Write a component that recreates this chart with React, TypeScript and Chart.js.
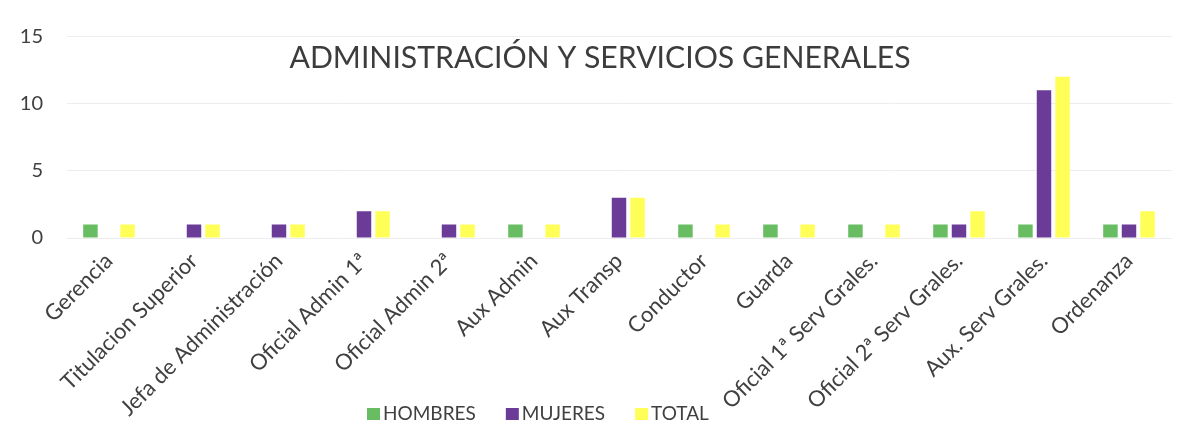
import React, { useEffect, useRef } from "react";
import { Chart, registerables } from "chart.js";

Chart.register(...registerables);

const TITLE = "ADMINISTRACIÓN Y SERVICIOS GENERALES";

const categories = [
  "Gerencia",
  "Titulacion Superior",
  "Jefa de Administración",
  "Oficial Admin 1ª",
  "Oficial Admin 2ª",
  "Aux Admin",
  "Aux Transp",
  "Conductor",
  "Guarda",
  "Oficial 1ª Serv Grales.",
  "Oficial 2ª Serv Grales.",
  "Aux. Serv Grales.",
  "Ordenanza",
];

const hombres = [1, 0, 0, 0, 0, 1, 0, 1, 1, 1, 1, 1, 1];
const mujeres = [0, 1, 1, 2, 1, 0, 3, 0, 0, 0, 1, 11, 1];
const total = [1, 1, 1, 2, 1, 1, 3, 1, 1, 1, 2, 12, 2];

const seriesLabels = ["HOMBRES", "MUJERES", "TOTAL"];
const seriesColors = ["#68bd62", "#6a3c98", "#ffff58"];

const yMin = 0;
const yMax = 15;
const yStep = 5;

const FONT = "Lato, 'Open Sans', sans-serif";
const TEXT = "#404040";

const titlePlugin = {
  id: "customTitle",
  afterDraw(chart: any) {
    const ctx = chart.ctx;
    ctx.save();
    ctx.font = `30.2px ${FONT}`;
    ctx.fillStyle = "#3c3c3c";
    ctx.textAlign = "center";
    ctx.textBaseline = "alphabetic";
    ctx.fillText(TITLE, 592, 60);
    ctx.restore();
  },
};

const legendPlugin = {
  id: "customLegend",
  afterDraw(chart: any) {
    const ctx = chart.ctx;
    ctx.save();
    ctx.font = `19px ${FONT}`;
    ctx.textBaseline = "middle";
    ctx.textAlign = "left";
    let x = 359;
    const y = 406;
    chart.data.datasets.forEach((ds: any) => {
      ctx.fillStyle = ds.backgroundColor;
      ctx.fillRect(x, y - 6, 13, 12);
      x += 16;
      ctx.fillStyle = TEXT;
      ctx.fillText(ds.label, x, y);
      x += ctx.measureText(ds.label).width + 30;
    });
    ctx.restore();
  },
};

export default function App() {
  const ref = useRef<HTMLCanvasElement | null>(null);

  useEffect(() => {
    if (!ref.current) return;
    const data = [hombres, mujeres, total];
    const chart = new Chart(ref.current, {
      type: "bar",
      data: {
        labels: categories,
        datasets: data.map((d, i) => ({
          label: seriesLabels[i],
          data: d,
          backgroundColor: seriesColors[i],
          borderWidth: 0,
          categoryPercentage: 0.655,
          barPercentage: 0.78,
        })),
      },
      options: {
        animation: false,
        responsive: false,
        maintainAspectRatio: false,
        layout: { padding: { top: 28.5, right: 19.5, left: 0, bottom: 0 } },
        plugins: {
          legend: { display: false },
          title: { display: false },
          tooltip: { enabled: false },
        },
        scales: {
          x: {
            grid: { display: false },
            border: { display: false },
            ticks: {
              color: TEXT,
              font: { family: FONT, size: 22 },
              minRotation: 45,
              maxRotation: 45,
              padding: 2,
              autoSkip: false,
            },
            afterFit(scale: any) {
              scale.height = 198;
            },
          },
          y: {
            min: yMin,
            max: yMax,
            grid: { color: "#ededed", drawTicks: false },
            border: { display: false },
            ticks: {
              stepSize: yStep,
              color: TEXT,
              font: { family: FONT, size: 20 },
              padding: 23.5,
            },
            afterFit(scale: any) {
              scale.width = 58.5;
              scale.paddingTop = 0;
              scale.paddingBottom = 0;
            },
          },
        },
      },
      plugins: [titlePlugin, legendPlugin],
    });
    return () => chart.destroy();
  }, []);

  return (
    <div style={{ width: 1183, height: 428 }}>
      <canvas ref={ref} width={1183} height={428} style={{ width: 1183, height: 428 }} />
    </div>
  );
}
